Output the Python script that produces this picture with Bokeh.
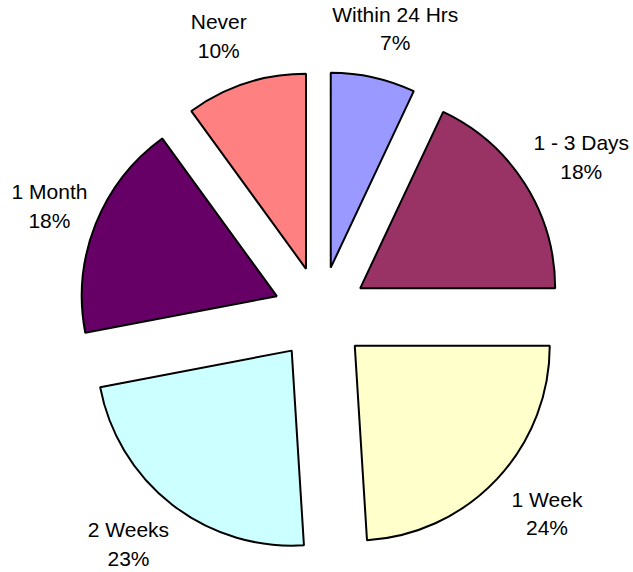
import math
from bokeh.plotting import figure
from bokeh.models import Range1d, ColumnDataSource
from bokeh.core.properties import value
from bokeh.embed import file_html
from bokeh.resources import INLINE

categories = ["Within 24 Hrs", "1 - 3 Days", "1 Week", "2 Weeks", "1 Month", "Never"]
percents = [7, 18, 24, 23, 18, 10]
colors = ["#9999FF", "#993366", "#FFFFCC", "#CCFFFF", "#660066", "#FF8080"]

W, H = 633, 572
# data coords: x = screen x, y = H - screen y
CX, CY = 320, H - 313
R = 195
EXPLODE = 47
LABEL_RX, LABEL_RY, LABEL_PAD = 297, 292, 10
FONT_PX = 21

p = figure(width=W, height=H, output_backend="svg", toolbar_location=None,
           x_range=Range1d(0, W), y_range=Range1d(0, H),
           min_border=0)
p.axis.visible = False
p.grid.visible = False
p.outline_line_color = None

total = sum(percents)
xs, ys, starts, ends, lx, ly, labels = [], [], [], [], [], [], []
cum = 0.0
for cat, pc in zip(categories, percents):
    a0 = cum / total * 2 * math.pi
    cum += pc
    a1 = cum / total * 2 * math.pi
    mid = (a0 + a1) / 2
    # clockwise from top -> direction in data coords
    dx, dy = math.sin(mid), math.cos(mid)
    xs.append(CX + EXPLODE * dx)
    ys.append(CY + EXPLODE * dy)
    starts.append(math.pi / 2 - a1)
    ends.append(math.pi / 2 - a0)
    tx = CX + LABEL_RX * dx + LABEL_PAD * (1 if dx >= 0 else -1)
    half_w = len(cat) * 0.53 * FONT_PX / 2
    tx = max(tx, 10 + half_w)
    lx.append(tx)
    ly.append(CY + LABEL_RY * dy)
    labels.append(f"{cat}\n{pc}%")

src = ColumnDataSource(dict(x=xs, y=ys, start=starts, end=ends, color=colors,
                            lx=lx, ly=ly, label=labels))
p.wedge(x="x", y="y", radius=R, start_angle="start", end_angle="end",
        direction="anticlock", fill_color="color", line_color="black",
        line_width=2, source=src)
p.text(x="lx", y="ly", text="label", source=src, text_align="center",
       text_baseline="middle", text_font=value("Liberation Sans"),
       text_font_size=f"{FONT_PX}px", text_color="black", text_line_height=1.24)

open("out.html", "w").write(file_html(p, INLINE))
